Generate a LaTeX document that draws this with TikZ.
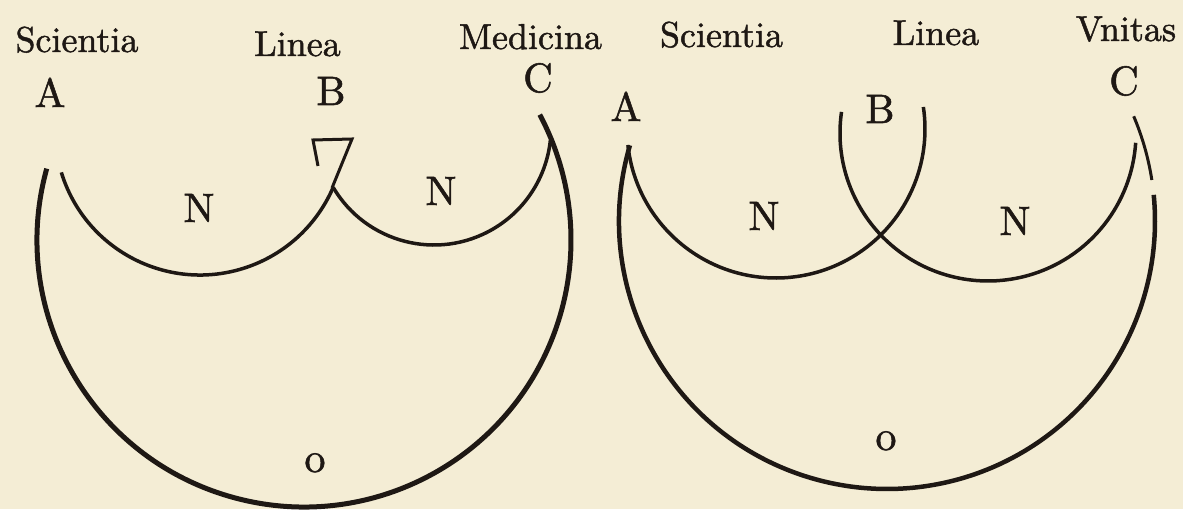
\documentclass[tikz,border=0pt]{standalone}
\usepackage{fontspec}
\usepackage{xcolor}
\usetikzlibrary{calc, math}
\newfontfamily\inkfont{lmroman10-regular}[Extension=.otf, FakeBold=1.3]
\definecolor{paper}{RGB}{244, 237, 213}
\definecolor{ink}{RGB}{30, 24, 20}

\begin{document}
\begin{tikzpicture}[x=1pt,y=1pt,
  thick arc/.style={line width=5, color=ink},
  thin arc/.style={line width=3.5, color=ink},
  word/.style={inner sep=0, anchor=base, text=ink, font=\inkfont\fontsize{36}{40}\selectfont},
  letter/.style={inner sep=0, anchor=base, text=ink, font=\inkfont\fontsize{41}{45}\selectfont}]
\tikzmath{
\Rout=267;
\Rna=145;
\Rnb=117;
\Sout=268;
\Sna=149;
\Snb=148;
}
\fill[paper] (0,0) rectangle (1183,509);
\useasboundingbox (0,0) rectangle (1183,509);

% left figure
\coordinate (O1) at (304,269);
\coordinate (N1) at (200,379);
\coordinate (N2) at (434,381);
\coordinate (J1) at (332,321);
\coordinate (T1) at (352,370);
\coordinate (T2) at (313,369);
\coordinate (T3) at (318,343);

\draw[thick arc] ($(O1)+(164.5:\Rout)$) arc(164.5:388:\Rout);
\draw[thin arc] ($(N1)+(197:\Rna)$) arc(197:336.3:\Rna);
\draw[thin arc] ($(N2)+(210.5:\Rnb)$) arc(210.5:354:\Rnb);
\draw[thin arc, line width=3] (J1) -- (T1) -- (T2) -- (T3);

\node[word] (sci1) at (77,457) {Scientia};
\node[word] (lin1) at (297.5,453) {Linea};
\node[word] (med1) at (530.5,460) {Medicina};
\node[letter] (A1) at (50,402) {A};
\node[letter] (B1) at (331,404) {B};
\node[letter] (C1) at (538,417) {C};
\node[letter] (n1a) at (199,287) {N};
\node[letter] (n1b) at (441,304) {N};
\node[word, font=\inkfont\fontsize{42}{46}\selectfont] (o1) at (315,37) {o};

% right figure
\coordinate (O2) at (887,288);
\coordinate (M1) at (776,380);
\coordinate (M2) at (988,376);

\draw[thick arc, line width=4.5] ($(O2)+(163.6:\Sout)$) arc(163.6:365.6:\Sout);
\draw[thin arc, line width=3] ($(O2)+(8.8:\Sout)$) arc(8.8:23:\Sout);
\draw[thin arc] ($(M1)+(186.2:\Sna)$) arc(186.2:368.5:\Sna);
\draw[thin arc] ($(M2)+(171.8:\Snb)$) arc(171.8:356.2:\Snb);

\node[word] (sci2) at (721.5,462) {Scientia};
\node[word] (lin2) at (936,464) {Linea};
\node[word] (uni2) at (1126,468) {Vnitas};
\node[letter] (A2) at (626,388) {A};
\node[letter] (B2) at (880,386) {B};
\node[letter] (C2) at (1124,414) {C};
\node[letter] (n2a) at (764,279) {N};
\node[letter] (n2b) at (1015,274) {N};
\node[word, font=\inkfont\fontsize{42}{46}\selectfont] (o2) at (886,59) {o};
\end{tikzpicture}
\end{document}
